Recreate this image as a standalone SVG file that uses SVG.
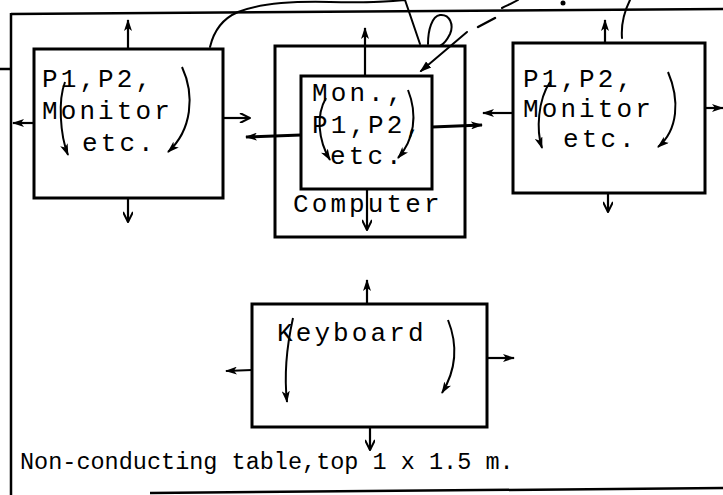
<svg xmlns="http://www.w3.org/2000/svg" width="723" height="495" viewBox="0 0 723 495">
<style>
.box{fill:none;stroke:#000;stroke-width:3;stroke-linejoin:miter}
.frame{fill:none;stroke:#000;stroke-width:2.5}
.lbl{font-family:"Liberation Mono","DejaVu Sans Mono",monospace;font-size:26px;letter-spacing:3.1px;fill:#000}
.cap{font-family:"Liberation Mono","DejaVu Sans Mono",monospace;font-size:23.5px;fill:#000}
.arr{fill:none;stroke:#000;stroke-width:2.2;marker-end:url(#ah)}
.varr{fill:none;stroke:#000;stroke-width:2.2;marker-end:url(#av)}
.flow{fill:none;stroke:#000;stroke-width:2;marker-end:url(#ah)}
.wire{fill:none;stroke:#000;stroke-width:2;stroke-linecap:round}
</style>
<defs>
<marker id="ah" viewBox="0 0 12 8" refX="11" refY="4" markerWidth="12" markerHeight="8" markerUnits="userSpaceOnUse" orient="auto"><path d="M0,0 L12,4 L0,8 L3,4 Z" fill="#000"/></marker>
<marker id="av" viewBox="0 0 12 10" refX="11" refY="5" markerWidth="12" markerHeight="10" markerUnits="userSpaceOnUse" orient="auto"><path d="M1,0 L11,5 L1,10" fill="none" stroke="#000" stroke-width="2"/></marker>
<marker id="blob" viewBox="0 0 12 10" refX="10" refY="5" markerWidth="12" markerHeight="10" markerUnits="userSpaceOnUse" orient="auto"><path d="M0,1 L12,5 L0,9 Z" fill="#000"/></marker>
</defs>

<g id="table">
<path class="frame" d="M11,13 L11,495"/>
<path class="frame" d="M11,14 L723,9"/>
<path class="frame" d="M0,69 L11,69"/>
<path class="frame" d="M150,493 L723,488"/>
<text class="cap" x="20" y="469">Non-conducting table,top 1 x 1.5 m.</text>
</g>

<g id="box-left">
<rect class="box" x="34" y="49" width="189" height="149"/>
<text class="lbl" x="42" y="87">P1,P2,</text>
<text class="lbl" x="42" y="119">Monitor</text>
<text class="lbl" x="82" y="151">etc.</text>
</g>

<g id="box-computer">
<rect class="box" x="275" y="46" width="190" height="191"/>
<rect class="box" x="301" y="76" width="131" height="113"/>
<text class="lbl" x="312" y="101">Mon.,</text>
<text class="lbl" x="312" y="133">P1,P2,</text>
<text class="lbl" x="330" y="164">etc.</text>
<text class="lbl" x="293" y="212">Computer</text>
</g>

<g id="box-right">
<rect class="box" x="513" y="43" width="192" height="150"/>
<text class="lbl" x="523" y="87">P1,P2,</text>
<text class="lbl" x="523" y="117">Monitor</text>
<text class="lbl" x="563" y="147">etc.</text>
</g>

<g id="box-keyboard">
<rect class="box" x="252" y="304" width="235" height="123"/>
<text class="lbl" x="277" y="341">Keyboard</text>
</g>

<g id="connectors">
<path class="arr" d="M128,49 L128,20"/>
<path class="arr" d="M34,123 L13,123"/>
<path class="varr" d="M223,118 L250,118"/>
<path class="varr" d="M128,198 L128,222"/>
<path class="flow" d="M65,82 C58,100 60,135 68,155"/>
<path class="flow" d="M182,67 C195,95 192,130 168,152"/>
<path class="arr" d="M365,76 L365,28"/>
<path class="varr" d="M367,189 L367,230"/>
<path class="arr" d="M301,135 L246,137" style="stroke-width:3"/>
<path class="arr" d="M432,127 L482,125" style="stroke-width:3"/>
<path class="flow" d="M326,98 C316,115 318,140 330,160"/>
<path class="flow" d="M408,90 C418,115 414,140 398,158"/>
<path class="arr" d="M605,43 L605,20"/>
<path class="arr" d="M513,113 L483,113"/>
<path class="arr" d="M705,108 L723,108"/>
<path class="varr" d="M608,193 L608,212"/>
<path class="flow" d="M550,82 C538,100 536,130 542,148"/>
<path class="flow" d="M668,72 C680,100 678,130 658,147"/>
<path class="arr" d="M367,304 L367,280"/>
<path class="arr" d="M252,370 L226,371"/>
<path class="arr" d="M487,358 L514,358"/>
<path class="varr" d="M370,427 L370,450"/>
<path class="flow" d="M293,318 C287,345 284,375 287,402"/>
<path class="flow" d="M448,320 C458,345 456,370 442,393"/>
<path class="wire" d="M210,47 C214,30 224,18 238,12 C258,4 290,1 330,2 C370,3 395,1 405,0 L420,44"/>
<path class="wire" d="M428,44 C428,30 432,16 440,15 C450,14 454,25 450,34 C447,40 444,44 440,46"/>
<path class="wire" d="M467,32 L421,71" style="marker-end:url(#blob)"/>
<path class="wire" d="M478,27 L495,18" style="stroke-width:2.5"/>
<path class="wire" d="M502,8 C508,5 513,3 518,0"/>
<circle cx="563" cy="3" r="2.5" fill="#000"/>
<path class="wire" d="M630,0 C624,12 621,25 622,38"/>
</g>
</svg>
